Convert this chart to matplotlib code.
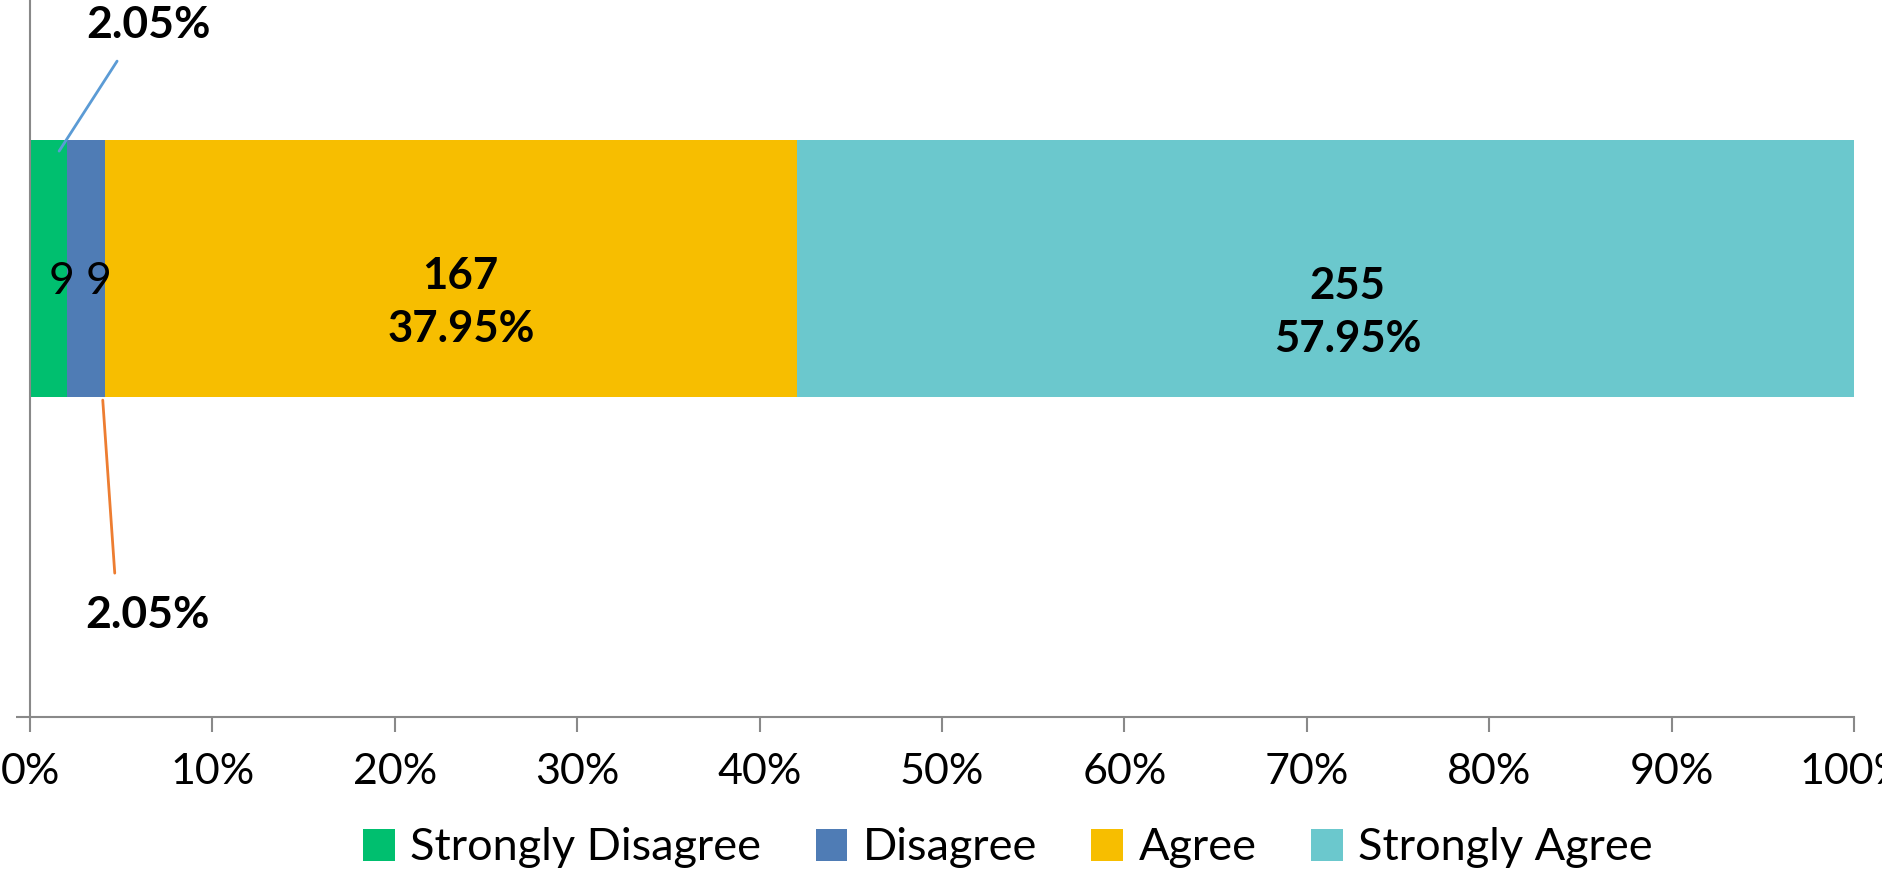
import matplotlib
matplotlib.use("Agg")
import matplotlib.pyplot as plt
from matplotlib.patches import Patch

plt.rcParams['font.family'] = ['Lato', 'DejaVu Sans']

categories = ["Strongly Disagree", "Disagree", "Agree", "Strongly Agree"]
counts = [9, 9, 167, 255]
percents = [2.05, 2.05, 37.95, 57.95]
colors = ["#00BF6F", "#4F7CB5", "#F7BE00", "#6BC8CD"]
xtick_vals = [0, 10, 20, 30, 40, 50, 60, 70, 80, 90, 100]
xtick_labels = [f"{v}%" for v in xtick_vals]

W, H = 1883, 873
fig = plt.figure(figsize=(W / 100, H / 100), dpi=100)
ax = fig.add_axes([30 / W, 1 - 717 / H, (1854 - 30) / W, 717 / H])

total = sum(counts)
shares = [c / total * 100 for c in counts]
lefts = []
acc = 0
for s in shares:
    lefts.append(acc)
    acc += s

for cat, s, l, c in zip(categories, shares, lefts, colors):
    ax.barh(0, s, left=l, height=1.0, color=c, label=cat)

ax.set_xlim(0, 100)
ax.set_ylim(-1.745, 1.045)
ax.set_xticks(xtick_vals)
ax.set_xticklabels(xtick_labels, fontsize=31)
ax.set_yticks([-1.745])
ax.set_yticklabels([])
for sp in ["top", "right"]:
    ax.spines[sp].set_visible(False)
for sp in ["left", "bottom"]:
    ax.spines[sp].set_color("#898989")
    ax.spines[sp].set_linewidth(1.5)
ax.tick_params(axis="x", length=11, width=1.5, color="#898989", pad=15)
ax.tick_params(axis="y", length=10, width=1.5, color="#898989")

# small count labels for the thin segments
for i in (0, 1):
    ax.annotate(str(counts[i]), xy=(lefts[i] + shares[i] / 2, 0), xytext=(13, -13),
                textcoords="offset pixels", ha="center", va="center", fontsize=32)

# big labels in the wide segments
offsets = {2: (10, -34), 3: (22, -44)}
for i in (2, 3):
    ax.annotate(f"{counts[i]}\n{percents[i]:.2f}%", xy=(lefts[i] + shares[i] / 2, 0),
                xytext=offsets[i], textcoords="offset pixels", ha="center", va="center",
                fontsize=31.5, fontweight="bold", linespacing=1.4)

# leader-line labels
# top: Strongly Disagree percent
x0 = lefts[0] + shares[0] * 0.78
y0 = 0.457
ax.annotate("", xy=(x0, y0), xytext=(58, 90), textcoords="offset pixels",
            arrowprops=dict(arrowstyle="-", color="#5B9BD5", lw=2, shrinkA=0, shrinkB=0))
ax.annotate(f"{percents[0]:.2f}%", xy=(x0, y0), xytext=(89, 126), textcoords="offset pixels",
            ha="center", va="center", fontsize=32, fontweight="bold")
# bottom: Disagree percent
x1 = lefts[1] + shares[1] * 0.95
y1 = -0.512
ax.annotate("", xy=(x1, y1), xytext=(12, -173), textcoords="offset pixels",
            arrowprops=dict(arrowstyle="-", color="#ED7D31", lw=2, shrinkA=0, shrinkB=0))
ax.annotate(f"{percents[1]:.2f}%", xy=(x1, y1), xytext=(45, -215), textcoords="offset pixels",
            ha="center", va="center", fontsize=32, fontweight="bold")

handles = [Patch(facecolor=c, label=cat) for cat, c in zip(categories, colors)]
fig.legend(handles=handles, loc="center", bbox_to_anchor=(1008 / W, 1 - 848 / H), ncol=4,
           frameon=False, fontsize=32.5, handlelength=0.7, handleheight=0.7,
           handletextpad=0.35, columnspacing=1.2, borderpad=0)

fig.savefig("out.png", dpi=100)
